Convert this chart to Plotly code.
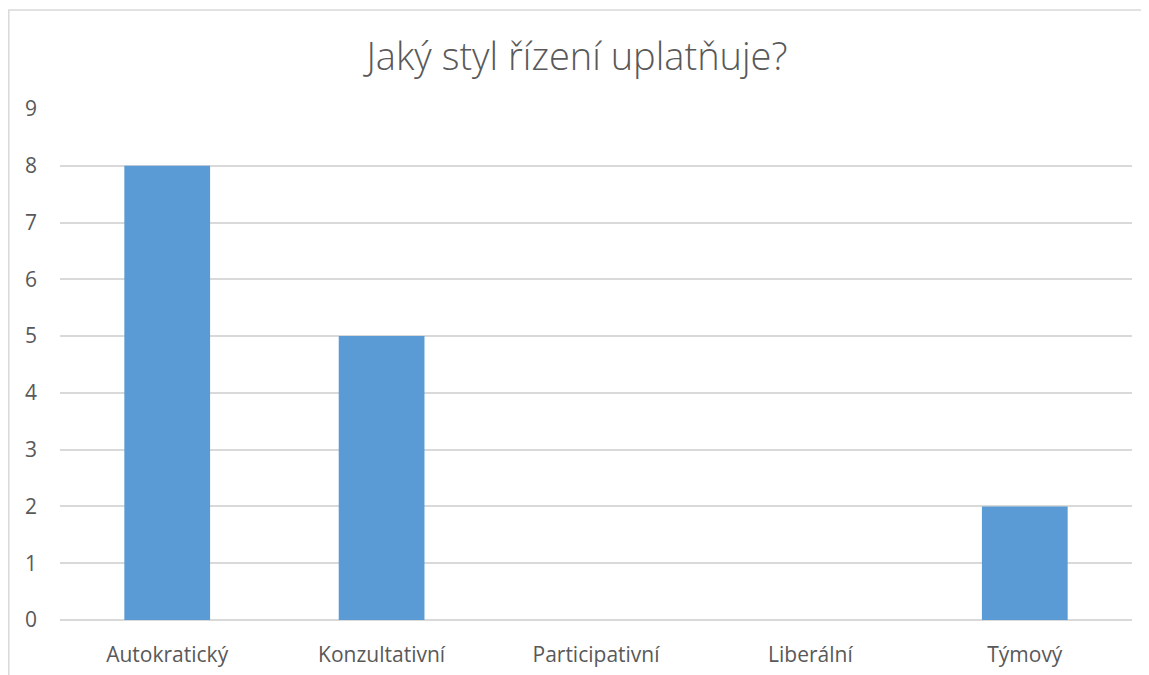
import plotly.graph_objects as go

# data
categories = ["Autokratický", "Konzultativní", "Participativní", "Liberální", "Týmový"]
values = [8, 5, 0, 0, 2]
title_text = "Jaký styl řízení uplatňuje?"

# page body has an 8px margin, so the figure starts at (8, 8)
W, H = 1141, 667
L, R, T, B = 52, 17, 101, 55
pw = W - L - R
ph = H - T - B

fig = go.Figure()
fig.add_trace(go.Bar(x=categories, y=values, marker_color="#5B9BD5",
                     marker_line_width=0, showlegend=False))

# chart border (only top and left visible, rest is cropped off)
bx0 = (0.8 - L) / pw
by1 = (H - B - 2) / ph
fig.add_shape(type="rect", xref="paper", yref="paper",
              x0=bx0, x1=1.2, y0=-0.3, y1=by1,
              line=dict(color="#D9D9D9", width=1.5), layer="below")

fig.update_layout(
    width=W, height=H,
    margin=dict(l=L, r=R, t=T, b=B),
    paper_bgcolor="white", plot_bgcolor="white",
    bargap=0.6,
    font=dict(family="Open Sans, Noto Sans, sans-serif", color="#595959", size=21),
    title=dict(text=title_text, x=569 / W, xanchor="center", y=1 - 49 / H, yanchor="middle",
               font=dict(size=38, color="#595959", weight=300)),
    xaxis=dict(showgrid=False, showline=False, ticks="", tickfont=dict(size=21),
               ticklabelstandoff=20, automargin=False),
    yaxis=dict(range=[0, 9], dtick=1, showgrid=True, gridcolor="#D9D9D9", gridwidth=1.5,
               zeroline=True, zerolinecolor="#D9D9D9", zerolinewidth=1.5,
               showline=False, ticks="", tickfont=dict(size=21), ticklabelstandoff=22,
               automargin=False),
)

fig.write_html("out.html")
